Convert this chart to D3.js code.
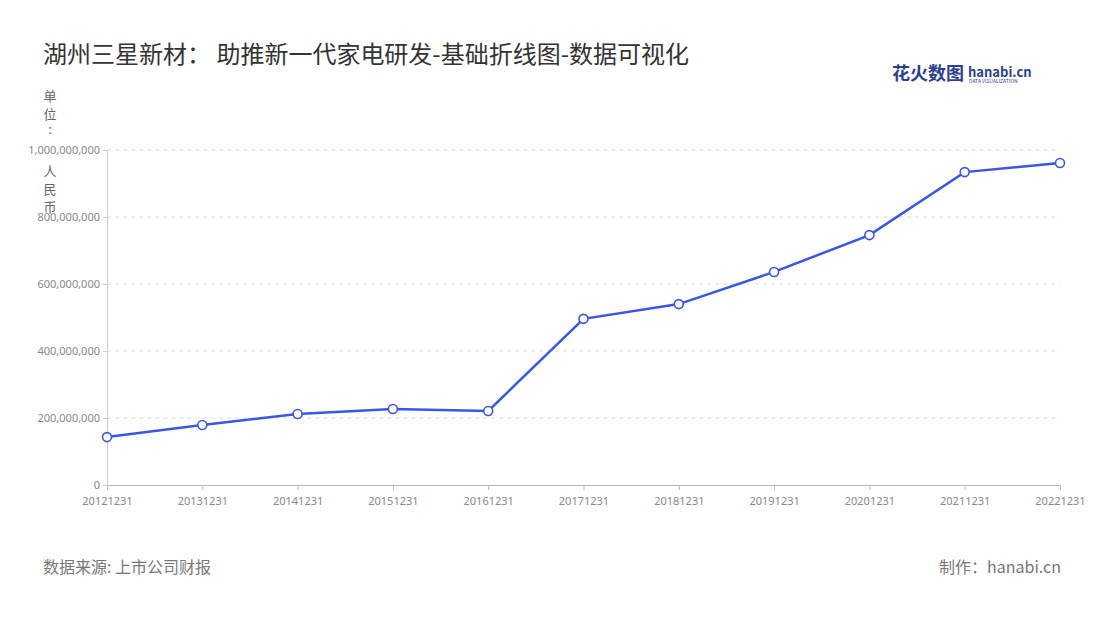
<!DOCTYPE html>
<html><head><meta charset="utf-8">
<script src="https://cdn.jsdelivr.net/npm/d3@7/dist/d3.min.js"></script>
<style>body{margin:0;background:#fff;font-family:"Noto Sans CJK SC","Noto Sans",sans-serif;}</style>
</head><body><svg id="c" width="1100" height="620"></svg>
<script>
const categories=["20121231","20131231","20141231","20151231","20161231","20171231","20181231","20191231","20201231","20211231","20221231"];
const values=[143000000,179000000,212000000,227000000,221000000,496000000,540000000,636000000,746000000,934000000,961000000];
const yTicks=[0,200000000,400000000,600000000,800000000,1000000000];
const unitChars=["单","位",":","人","民","币"];
const svg=d3.select("#c");
const L=107,R=1060,T=150,B=485;
const x=d3.scalePoint().domain(categories).range([L,R]);
const y=d3.scaleLinear().domain([0,1000000000]).range([B,T]);
const fmt=d3.format(",");
svg.append("text").attr("x",43).attr("y",63).attr("font-size",24).attr("fill","#333").text("湖州三星新材： 助推新一代家电研发-基础折线图-数据可视化");
const logo=svg.append("g");
logo.append("text").attr("x",892).attr("y",80).attr("font-size",18).attr("font-weight","bold").attr("fill","#2a3f8f").text("花火数图");
logo.append("text").attr("x",968).attr("y",77).attr("font-size",13).attr("font-weight","bold").attr("fill","#2a3f8f").text("hanabi.cn");
logo.append("text").attr("x",969).attr("y",83).attr("font-size",5).attr("fill","#2a3f8f").text("DATA VISUALIZATION");
const uy=[101,119,134,176,194,212];
unitChars.forEach((ch,i)=>svg.append("text").attr("x",50).attr("y",uy[i]).attr("text-anchor","middle").attr("font-size",13).attr("fill","#666").text(ch));
svg.append("g").selectAll("line").data(yTicks.slice(1)).join("line")
 .attr("x1",L).attr("x2",R).attr("y1",d=>y(d)).attr("y2",d=>y(d)).attr("stroke","#ddd").attr("stroke-dasharray","4,4");
const ya=svg.append("g").attr("transform",`translate(${L},0)`).call(d3.axisLeft(y).tickValues(yTicks).tickFormat(fmt).tickSize(4));
ya.select(".domain").attr("stroke","#ccc");ya.selectAll("line").attr("stroke","#ccc");
ya.selectAll("text").attr("fill","#888").attr("font-size",11).attr("font-family","Noto Sans");
const xa=svg.append("g").attr("transform",`translate(0,${B})`).call(d3.axisBottom(x).tickSize(5));
xa.select(".domain").attr("stroke","#bbb");xa.selectAll("line").attr("stroke","#bbb");
xa.selectAll("text").attr("fill","#888").attr("font-size",11).attr("font-family","Noto Sans").attr("dy","1.1em");
svg.append("path").datum(values).attr("fill","none").attr("stroke","#3b55e6").attr("stroke-width",2.5)
 .attr("d",d3.line().x((d,i)=>x(categories[i])).y(d=>y(d)));
svg.append("g").selectAll("circle").data(values).join("circle").attr("cx",(d,i)=>x(categories[i])).attr("cy",d=>y(d)).attr("r",4.5)
 .attr("fill","#fff").attr("stroke","#3b55e6").attr("stroke-width",1.6);
svg.append("text").attr("x",43).attr("y",573).attr("font-size",16).attr("fill","#777").text("数据来源: 上市公司财报");
svg.append("text").attr("x",1061).attr("y",573).attr("text-anchor","end").attr("font-size",16).attr("fill","#777").text("制作：hanabi.cn");
</script></body></html>
